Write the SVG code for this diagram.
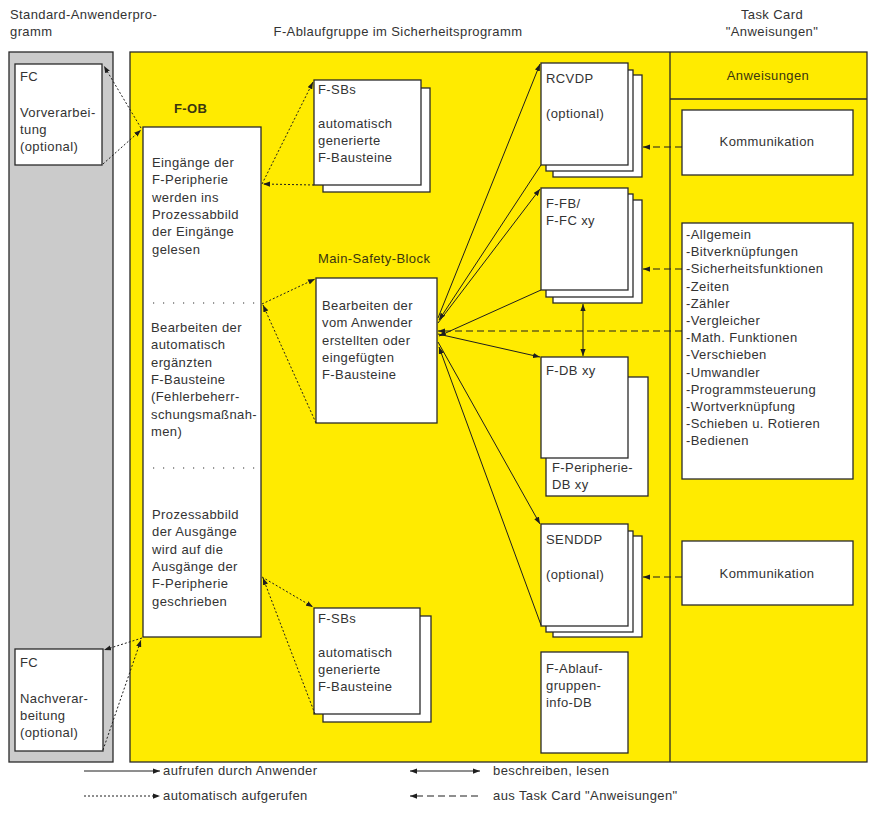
<svg xmlns="http://www.w3.org/2000/svg" width="882" height="817" viewBox="0 0 882 817">
<defs>
<marker id="ah" viewBox="0 0 8 6" refX="8" refY="3" markerWidth="7" markerHeight="5.5" markerUnits="userSpaceOnUse" orient="auto-start-reverse"><path d="M0,0 L8,3 L0,6 z" fill="#1e1e1e"/></marker>
<style>
.t{font-family:"Liberation Sans",Arial,Helvetica,sans-serif;font-size:13px;fill:#333;letter-spacing:0.4px}
.ty{font-family:"Liberation Sans",Arial,Helvetica,sans-serif;font-size:13px;fill:#3a3610;letter-spacing:0.4px}
.b{font-weight:bold}
.box{fill:#fff;stroke:#2a2a2a;stroke-width:1.3}
.pan{stroke:#2a2a2a;stroke-width:1.3}
.solid{stroke:#1e1e1e;stroke-width:1;fill:none;marker-end:url(#ah)}
.dot{stroke:#1e1e1e;stroke-width:1;stroke-dasharray:2 2;fill:none;marker-end:url(#ah)}
.dash{stroke:#1e1e1e;stroke-width:1.2;stroke-dasharray:7 4;fill:none;marker-end:url(#ah)}
.sep{stroke:#333;stroke-width:1.2;stroke-dasharray:1.2 8.8;fill:none}
</style>
</defs>
<rect width="882" height="817" fill="#fff"/>

<!-- headers -->
<text class="t" x="10" y="19">Standard-Anwenderpro-</text>
<text class="t" x="10" y="36">gramm</text>
<text class="t" x="398" y="36" text-anchor="middle">F-Ablaufgruppe im Sicherheitsprogramm</text>
<text class="t" x="772" y="19" text-anchor="middle">Task Card</text>
<text class="t" x="772" y="36" text-anchor="middle">"Anweisungen"</text>

<!-- panels -->
<g id="panel-standard">
<rect class="pan" x="9" y="52" width="104" height="710" fill="#cbcbcb"/>
</g>
<g id="panel-ablauf">
<rect class="pan" x="130" y="52" width="737" height="710" fill="#ffeb00"/>
<line class="pan" x1="670" y1="52" x2="670" y2="762"/>
<line class="pan" x1="670" y1="99" x2="867" y2="99"/>
<text class="ty" x="768" y="80" text-anchor="middle">Anweisungen</text>
</g>

<!-- FC top -->
<g id="fc-vor">
<rect class="box" x="15" y="64" width="87" height="101"/>
<text class="t" x="20" y="81">FC</text>
<text class="t" x="20" y="117">Vorverarbei-</text>
<text class="t" x="20" y="134">tung</text>
<text class="t" x="20" y="151">(optional)</text>
</g>

<!-- FC bottom -->
<g id="fc-nach">
<rect class="box" x="15" y="649" width="88" height="102"/>
<text class="t" x="20" y="667">FC</text>
<text class="t" x="20" y="703">Nachverar-</text>
<text class="t" x="20" y="720">beitung</text>
<text class="t" x="20" y="737">(optional)</text>
</g>

<!-- F-OB -->
<g id="f-ob">
<text class="ty b" x="174" y="113">F-OB</text>
<rect class="box" x="143" y="127" width="118" height="510"/>
<line class="sep" x1="153" y1="303" x2="256" y2="303"/>
<line class="sep" x1="153" y1="468" x2="256" y2="468"/>
<text class="t" x="152" y="167">Eingänge der</text>
<text class="t" x="152" y="184.3">F-Peripherie</text>
<text class="t" x="152" y="201.6">werden ins</text>
<text class="t" x="152" y="218.9">Prozessabbild</text>
<text class="t" x="152" y="236.2">der Eingänge</text>
<text class="t" x="152" y="253.5">gelesen</text>
<text class="t" x="151" y="332">Bearbeiten der</text>
<text class="t" x="151" y="349.3">automatisch</text>
<text class="t" x="151" y="366.6">ergänzten</text>
<text class="t" x="151" y="384">F-Bausteine</text>
<text class="t" x="151" y="401.2">(Fehlerbeherr-</text>
<text class="t" x="151" y="418.5">schungsmaßnah-</text>
<text class="t" x="151" y="435.8">men)</text>
<text class="t" x="152" y="519">Prozessabbild</text>
<text class="t" x="152" y="536.3">der Ausgänge</text>
<text class="t" x="152" y="553.6">wird auf die</text>
<text class="t" x="152" y="570.9">Ausgänge der</text>
<text class="t" x="152" y="588.2">F-Peripherie</text>
<text class="t" x="152" y="605.5">geschrieben</text>
</g>

<!-- F-SBs top -->
<g id="f-sbs-1">
<rect class="box" x="323" y="88" width="107" height="104"/>
<rect class="box" x="314" y="80" width="107" height="105"/>
<text class="t" x="318" y="94">F-SBs</text>
<text class="t" x="318" y="128">automatisch</text>
<text class="t" x="318" y="145">generierte</text>
<text class="t" x="318" y="162">F-Bausteine</text>
</g>

<!-- F-SBs bottom -->
<g id="f-sbs-2">
<rect class="box" x="323" y="616" width="108" height="106"/>
<rect class="box" x="314" y="608" width="106" height="106"/>
<text class="t" x="318" y="623">F-SBs</text>
<text class="t" x="318" y="657">automatisch</text>
<text class="t" x="318" y="674">generierte</text>
<text class="t" x="318" y="691">F-Bausteine</text>
</g>

<!-- Main-Safety-Block -->
<g id="main-safety-block">
<text class="ty" x="318" y="263">Main-Safety-Block</text>
<rect class="box" x="316" y="278" width="121" height="145"/>
<text class="t" x="322" y="310">Bearbeiten der</text>
<text class="t" x="322" y="327.3">vom Anwender</text>
<text class="t" x="322" y="344.6">erstellten oder</text>
<text class="t" x="322" y="361.9">eingefügten</text>
<text class="t" x="322" y="379.2">F-Bausteine</text>
</g>

<!-- RCVDP -->
<g id="rcvdp">
<rect class="box" x="553" y="75" width="89" height="102"/>
<rect class="box" x="546" y="70" width="87" height="101"/>
<rect class="box" x="541" y="63" width="87" height="102"/>
<text class="t" x="546" y="83">RCVDP</text>
<text class="t" x="546" y="118">(optional)</text>
</g>

<!-- F-FB / F-FC -->
<g id="f-fb">
<rect class="box" x="553" y="200" width="89" height="103"/>
<rect class="box" x="546" y="194" width="87" height="103"/>
<rect class="box" x="541" y="188" width="87" height="102"/>
<text class="t" x="546" y="208">F-FB/</text>
<text class="t" x="546" y="225">F-FC xy</text>
</g>

<!-- F-DB -->
<g id="f-db">
<rect class="box" x="546" y="377" width="102" height="119"/>
<rect class="box" x="541" y="357" width="87" height="101"/>
<text class="t" x="546" y="375">F-DB xy</text>
<text class="t" x="552" y="472">F-Peripherie-</text>
<text class="t" x="552" y="489">DB xy</text>
</g>

<!-- SENDDP -->
<g id="senddp">
<rect class="box" x="553" y="536" width="89" height="101"/>
<rect class="box" x="546" y="531" width="87" height="101"/>
<rect class="box" x="541" y="524" width="87" height="102"/>
<text class="t" x="546" y="544">SENDDP</text>
<text class="t" x="546" y="579">(optional)</text>
</g>

<!-- info DB -->
<g id="info-db">
<rect class="box" x="541" y="652" width="87" height="101"/>
<text class="t" x="546" y="673">F-Ablauf-</text>
<text class="t" x="546" y="690">gruppen-</text>
<text class="t" x="546" y="707">info-DB</text>
</g>

<!-- Task card boxes -->
<g id="kommunikation-1">
<rect class="box" x="682" y="110" width="171" height="65"/>
<text class="t" x="767" y="146" text-anchor="middle">Kommunikation</text>
</g>
<g id="anweisungen-liste">
<rect class="box" x="682" y="223" width="171" height="256"/>
<text class="t" x="686" y="239">-Allgemein</text>
<text class="t" x="686" y="256.2">-Bitverknüpfungen</text>
<text class="t" x="686" y="273.4">-Sicherheitsfunktionen</text>
<text class="t" x="686" y="290.6">-Zeiten</text>
<text class="t" x="686" y="307.8">-Zähler</text>
<text class="t" x="686" y="325">-Vergleicher</text>
<text class="t" x="686" y="342.2">-Math. Funktionen</text>
<text class="t" x="686" y="359.4">-Verschieben</text>
<text class="t" x="686" y="376.6">-Umwandler</text>
<text class="t" x="686" y="393.8">-Programmsteuerung</text>
<text class="t" x="686" y="411">-Wortverknüpfung</text>
<text class="t" x="686" y="428.2">-Schieben u. Rotieren</text>
<text class="t" x="686" y="445.4">-Bedienen</text>
</g>
<g id="kommunikation-2">
<rect class="box" x="682" y="541" width="171" height="64"/>
<text class="t" x="767" y="578" text-anchor="middle">Kommunikation</text>
</g>

<!-- connectors -->
<g id="connectors">
<!-- automatic calls (dotted) -->
<path class="dot" d="M141,128 L104,66"/>
<path class="dot" d="M103,164 L141,130"/>
<path class="dot" d="M262,184 L313,82"/>
<path class="dot" d="M314,185 L263,184"/>
<path class="dot" d="M262,304 L315,279"/>
<path class="dot" d="M316,423 L263,305"/>
<path class="dot" d="M262,577 L313,607"/>
<path class="dot" d="M315,714 L263,578"/>
<path class="dot" d="M142,638 L104,650"/>
<path class="dot" d="M103,750 L141,640"/>
<!-- user calls (solid) -->
<path class="solid" d="M438,318 L540,64"/>
<path class="solid" d="M541,165 L439,320"/>
<path class="solid" d="M438,323 L540,189"/>
<path class="solid" d="M541,290 L439,336"/>
<path class="solid" d="M438,334 L540,357"/>
<path class="solid" d="M438,342 L540,524"/>
<path class="solid" d="M541,625 L439,347"/>
<!-- read/write -->
<path class="solid" style="marker-start:url(#ah)" d="M583,304 L583,356"/>
<!-- from task card (dashed) -->
<path class="dash" d="M682,147 L643,147"/>
<path class="dash" d="M682,269 L643,269"/>
<path class="dash" d="M682,331 L438,331"/>
<path class="dash" d="M682,577 L643,577"/>
</g>

<!-- legend -->
<g id="legend">
<path class="solid" d="M84,771 L160,771"/>
<text class="t" x="163" y="775">aufrufen durch Anwender</text>
<path class="dot" d="M84,796 L160,796"/>
<text class="t" x="163" y="800">automatisch aufgerufen</text>
<path class="solid" style="marker-start:url(#ah)" d="M410,771 L480,771"/>
<text class="t" x="493" y="775">beschreiben, lesen</text>
<path class="dash" d="M478,796 L410,796"/>
<text class="t" x="493" y="800">aus Task Card "Anweisungen"</text>
</g>
</svg>
